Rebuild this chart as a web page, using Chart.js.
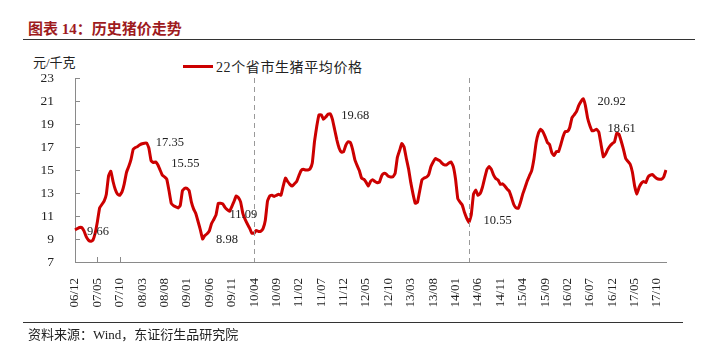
<!DOCTYPE html>
<html>
<head>
<meta charset="utf-8">
<script src="https://cdn.jsdelivr.net/npm/chart.js@4"></script>
<style>
  body { margin: 0; background: #fff; }
  #wrap { position: relative; width: 720px; height: 347px; overflow: hidden; }
  #wrap canvas { position: absolute; left: 0; top: 0; }
  .txt { position: absolute; white-space: nowrap; font-family: 'Liberation Serif', 'Noto Sans CJK SC', serif; color: #222; }
  #title { left: 28px; top: 17px; font-size: 15px; font-weight: bold; color: #9E1B1E; }
  #unit { left: 33px; top: 52px; font-size: 13px; }
  #legend { left: 183px; top: 56px; font-size: 14px; letter-spacing: 0.6px; }
  #legend i { display: inline-block; width: 30px; height: 3px; background: #CC0000; vertical-align: middle; margin-right: 3px; position: relative; top: -2px; }
  #source { left: 28px; top: 324px; font-size: 13px; }
  .rule { position: absolute; left: 23px; height: 1px; background: #333; }
</style>
</head>
<body>
<div id="wrap">
  <div class="txt" id="title">图表 14：历史猪价走势</div>
  <div class="rule" style="top:39px;width:672px"></div>
  <div class="txt" id="unit">元/千克</div>
  <div class="txt" id="legend"><i></i>22个省市生猪平均价格</div>
  <canvas id="myChart" width="720" height="347"></canvas>
  <div class="rule" style="top:322px;width:660px"></div>
  <div class="txt" id="source">资料来源：Wind，东证衍生品研究院</div>
</div>
<script>
// semi-monthly readings, starting 2006/12
const startYear = 2006;
const startMonth = 12;

const prices = [
  9.8, 9.9, 10.0, 10.0, 9.7, 9.2, 8.9, 8.8, 8.9, 9.5,
  10.5, 11.7, 12.0, 12.3, 12.9, 14.5, 14.9, 14.0, 13.3, 12.9,
  12.8, 13.1, 13.8, 14.8, 15.3, 15.9, 16.8, 16.95, 17.05, 17.2,
  17.28, 17.33, 17.35, 16.9, 15.8, 15.65, 15.7, 15.45, 15.0, 14.55,
  14.4, 14.2, 13.2, 12.1, 11.9, 11.8, 11.7, 11.9, 13.2, 13.4,
  13.4, 13.2, 12.2, 11.6, 11.2, 10.5, 9.8, 9.0, 9.3, 9.45,
  9.7, 10.35, 10.7, 11.1, 12.1, 12.1, 12.05, 11.75, 11.55, 11.4,
  11.8, 12.25, 12.75, 12.6, 12.2, 11.2, 10.7, 10.3, 9.95, 9.5,
  9.5, 9.75, 9.65, 9.68, 9.9, 10.6, 12.3, 12.75, 12.8, 12.7,
  12.8, 12.9, 12.8, 13.6, 14.3, 14.0, 13.75, 13.6, 13.8, 14.0,
  14.5, 14.95, 15.06, 15.0, 15.0, 15.1, 15.6, 17.5, 18.8, 19.8,
  19.8, 19.4, 19.6, 19.85, 19.9, 19.4, 18.5, 17.6, 16.9, 16.55,
  16.6, 17.17, 17.45, 17.4, 16.8, 15.9, 15.4, 14.95, 14.3, 14.2,
  13.95, 13.6, 14.0, 14.15, 14.0, 13.9, 13.95, 14.5, 14.7, 14.65,
  14.45, 14.4, 14.4, 14.7, 16.1, 16.7, 17.3, 17.0, 16.0, 15.1,
  13.9, 12.9, 12.1, 12.2, 13.2, 14.15, 14.3, 14.38, 14.6, 15.3,
  15.7, 16.0, 15.9, 15.8, 15.58, 15.45, 15.45, 15.6, 15.7, 15.3,
  14.2, 12.5, 12.2, 11.95, 11.3, 10.8, 10.45, 11.1, 12.9, 13.26,
  12.8, 12.95, 13.5, 14.3, 15.05, 15.3, 15.05, 14.55, 14.25, 14.13,
  13.75, 13.8, 13.6, 13.35, 13.15, 12.6, 12.0, 11.7, 11.67, 12.2,
  12.9, 13.45, 14.05, 14.5, 14.95, 15.95, 17.4, 18.2, 18.55, 18.33,
  17.9, 17.4, 17.2, 16.5, 16.25, 16.6, 16.6, 17.2, 17.9, 18.35,
  18.35, 18.7, 19.55, 19.8, 20.07, 20.6, 20.95, 21.2, 20.6, 19.5,
  18.85, 18.4, 18.45, 18.54, 18.3, 17.2, 16.15, 16.4, 16.8, 17.1,
  17.3, 17.45, 18.2, 18.1, 17.5, 16.8, 16.0, 15.75, 15.5, 14.8,
  13.6, 12.9, 13.5, 13.85, 14.0, 13.9, 14.4, 14.55, 14.6, 14.4,
  14.25, 14.2, 14.2, 14.4, 15.0
];

// dates as "YY/MM", two readings per month
const dates = prices.map((p, i) => {
  const m = startMonth - 1 + Math.floor(i / 2);
  const yy = (startYear + Math.floor(m / 12)) % 100;
  const mm = (m % 12) + 1;
  return String(yy).padStart(2, '0') + '/' + String(mm).padStart(2, '0');
});

// labelled points: text and where it sits along the axis
const notes = [
  { text: '9.66', at: 10.3 },
  { text: '17.35', at: 42.4 },
  { text: '15.55', at: 49.3 },
  { text: '8.98', at: 67.9 },
  { text: '11.09', at: 75.2 },
  { text: '19.68', at: 125.2 },
  { text: '10.55', at: 188.8 },
  { text: '20.92', at: 239.7 },
  { text: '18.61', at: 244.2 }
];

// vertical dashed markers (index into dates)
const markers = [80, 176];

const serif = "'Liberation Serif', 'Noto Sans CJK SC', serif";

const extras = {
  id: 'extras',
  afterDatasetsDraw(chart) {
    const ctx = chart.ctx;
    const x = chart.scales.x, y = chart.scales.y;
    const area = chart.chartArea;
    ctx.save();
    // inward tick marks
    ctx.strokeStyle = '#8a8a8a';
    ctx.lineWidth = 1;
    ctx.beginPath();
    y.ticks.forEach(t => {
      const py = Math.round(y.getPixelForValue(t.value)) + 0.5;
      ctx.moveTo(area.left, py);
      ctx.lineTo(area.left + 5, py);
    });
    x.ticks.forEach((t, i) => {
      if (i % 10 !== 0) return;
      const px = Math.round(x.getPixelForValue(i)) + 0.5;
      ctx.moveTo(px, area.bottom);
      ctx.lineTo(px, area.bottom - 5);
    });
    ctx.stroke();
    // dashed markers
    ctx.strokeStyle = '#999';
    ctx.setLineDash([5, 4]);
    markers.forEach(m => {
      const px = Math.round(x.getPixelForValue(m)) + 0.5;
      ctx.beginPath();
      ctx.moveTo(px, area.top);
      ctx.lineTo(px, area.bottom);
      ctx.stroke();
    });
    ctx.setLineDash([]);
    // value notes
    ctx.fillStyle = '#222';
    ctx.font = '12.5px ' + serif;
    ctx.textAlign = 'center';
    ctx.textBaseline = 'middle';
    notes.forEach(n => {
      ctx.fillText(n.text, x.getPixelForValue(n.at), y.getPixelForValue(parseFloat(n.text)));
    });
    ctx.restore();
  }
};

const config = {
  type: 'line',
  data: {
    labels: dates,
    datasets: [{
      label: '22个省市生猪平均价格',
      data: prices,
      borderColor: '#CC0000',
      borderWidth: 3,
      pointRadius: 0,
      tension: 0.1,
      borderJoinStyle: 'round',
      fill: false
    }]
  },
  options: {
    responsive: false,
    animation: false,
    layout: { padding: { top: 78, right: 54, left: 0, bottom: 0 } },
    plugins: {
      legend: { display: false },
      tooltip: { enabled: false }
    },
    scales: {
      x: {
        grid: { display: false },
        border: { display: true, color: '#8a8a8a', width: 1 },
        afterFit: s => { s.height = 85; },
        ticks: {
          autoSkip: false,
          minRotation: 90,
          maxRotation: 90,
          padding: 8,
          color: '#222',
          font: { family: serif, size: 13 },
          callback: function (v, i) { return i % 10 === 0 ? dates[i] : null; }
        }
      },
      y: {
        min: 7,
        max: 23,
        grid: { display: false },
        border: { display: true, color: '#8a8a8a', width: 1 },
        afterFit: s => { s.width = 75; },
        ticks: {
          stepSize: 2,
          padding: 13,
          color: '#222',
          font: { family: serif, size: 13.5 }
        }
      }
    }
  },
  plugins: [extras]
};

var myChart = new Chart(document.getElementById('myChart'), config);
</script>
</body>
</html>
